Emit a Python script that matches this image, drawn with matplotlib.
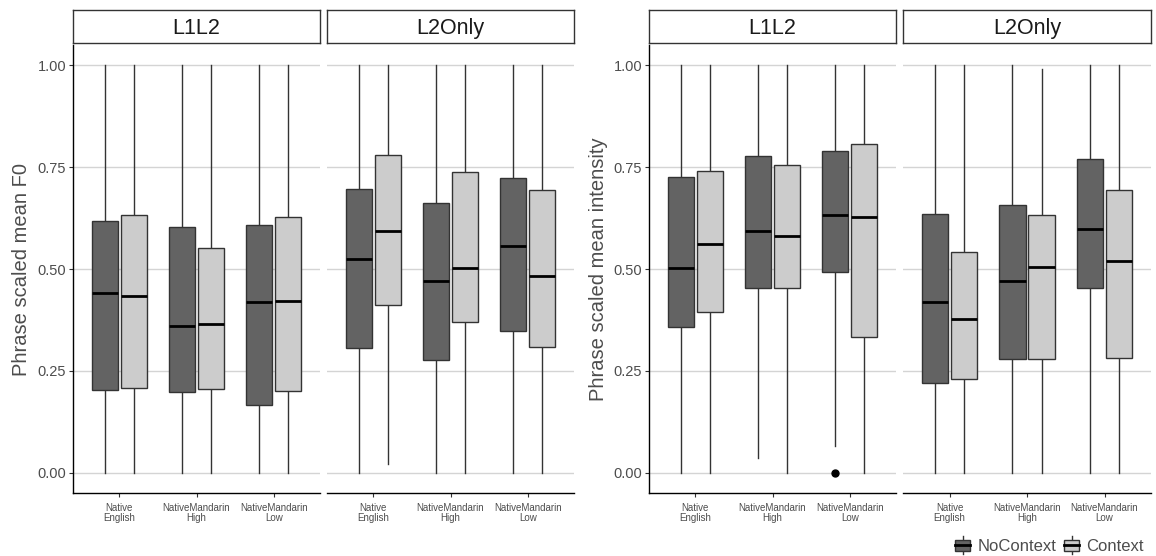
import matplotlib
matplotlib.use("Agg")
import matplotlib.pyplot as plt
from matplotlib.patches import Rectangle, Patch
from matplotlib.lines import Line2D
from matplotlib.legend_handler import HandlerBase

plt.rcParams["font.family"] = ["Liberation Sans", "DejaVu Sans"]

# Categories
groups = ["Native\nEnglish", "NativeMandarin\nHigh", "NativeMandarin\nLow"]
facets = ["L1L2", "L2Only"]
conditions = ["NoContext", "Context"]
cond_colors = ["#636363", "#cccccc"]

# Box stats per facet: (whislo, q1, med, q3, whishi)
# order: NativeEnglish NoContext/Context, NM High NoContext/Context, NM Low NoContext/Context
f0_l1l2 = [
    (0.0, 0.203, 0.440, 0.617, 1.0), (0.0, 0.207, 0.433, 0.632, 1.0),
    (0.0, 0.198, 0.360, 0.604, 1.0), (0.0, 0.206, 0.366, 0.552, 1.0),
    (0.0, 0.167, 0.420, 0.608, 1.0), (0.0, 0.200, 0.422, 0.627, 1.0),
]
f0_l2only = [
    (0.0, 0.307, 0.524, 0.696, 1.0), (0.022, 0.411, 0.594, 0.781, 1.0),
    (0.0, 0.277, 0.470, 0.662, 1.0), (0.0, 0.369, 0.502, 0.739, 1.0),
    (0.0, 0.348, 0.557, 0.724, 1.0), (0.0, 0.309, 0.484, 0.695, 1.0),
]
int_l1l2 = [
    (0.0, 0.358, 0.503, 0.727, 1.0), (0.0, 0.394, 0.562, 0.741, 1.0),
    (0.037, 0.453, 0.594, 0.778, 1.0), (0.0, 0.453, 0.580, 0.756, 1.0),
    (0.065, 0.492, 0.632, 0.790, 1.0), (0.0, 0.334, 0.627, 0.808, 1.0),
]
int_l2only = [
    (0.0, 0.220, 0.420, 0.635, 1.0), (0.0, 0.230, 0.378, 0.541, 1.0),
    (0.0, 0.278, 0.470, 0.656, 1.0), (0.0, 0.280, 0.504, 0.632, 0.99),
    (0.0, 0.454, 0.597, 0.770, 1.0), (0.0, 0.282, 0.519, 0.695, 1.0),
]
# outliers: box index -> values
int_l1l2_outliers = {4: [0.0]}

yticks = [0.0, 0.25, 0.5, 0.75, 1.0]
ytick_labels = ["0.00", "0.25", "0.50", "0.75", "1.00"]

W, H = 1156, 556
fig = plt.figure(figsize=(W / 100, H / 100), dpi=100)

DODGE = 0.1875
BOXW = 0.3375
EDGE = "#333333"
TXT = "#4d4d4d"


def panel(x0, x1, stats, title, first, outliers=None, ylabel=None, label_x=-0.17):
    ax = fig.add_axes([x0 / W, (H - 493) / H, (x1 - x0) / W, 448 / H])
    outliers = outliers or {}
    bstats, pos, cols = [], [], []
    for i, s in enumerate(stats):
        g, c = divmod(i, 2)
        bstats.append(dict(whislo=s[0], q1=s[1], med=s[2], q3=s[3], whishi=s[4],
                           fliers=outliers.get(i, [])))
        pos.append(g + 1 + (DODGE if c else -DODGE))
        cols.append(cond_colors[c])
    bp = ax.bxp(bstats, positions=pos, widths=BOXW, patch_artist=True,
                showcaps=False, showfliers=True,
                boxprops=dict(edgecolor=EDGE, linewidth=1.0),
                whiskerprops=dict(color=EDGE, linewidth=1.0),
                medianprops=dict(color="black", linewidth=2.0),
                flierprops=dict(marker="o", markerfacecolor="black",
                                markeredgecolor="black", markersize=5))
    for patch, col in zip(bp["boxes"], cols):
        patch.set_facecolor(col)
        patch.set_zorder(3)
    for ln in bp["whiskers"]:
        ln.set_zorder(2)
    for ln in bp["medians"]:
        ln.set_zorder(4)
    ax.set_xlim(0.4, 3.6)
    ax.set_ylim(-0.05, 1.05)
    ax.set_yticks(yticks)
    ax.yaxis.grid(True, color="#d4d4d4", linewidth=1.0, zorder=0)
    ax.set_axisbelow(True)
    ax.set_xticks([1, 2, 3])
    ax.set_xticklabels(groups, fontsize=7, color=TXT, linespacing=1.0)
    ax.tick_params(axis="x", length=3, color=EDGE, pad=4)
    for sp in ["top", "right"]:
        ax.spines[sp].set_visible(False)
    ax.spines["bottom"].set_color("black")
    ax.spines["bottom"].set_linewidth(1.0)
    if first:
        ax.set_yticklabels(ytick_labels, fontsize=10.5, color=TXT)
        ax.tick_params(axis="y", length=3, color=EDGE, pad=2)
        ax.spines["left"].set_color("black")
        ax.spines["left"].set_linewidth(1.0)
    else:
        ax.spines["left"].set_visible(False)
        ax.tick_params(axis="y", length=0, labelleft=False)
    if ylabel:
        ax.set_ylabel(ylabel, fontsize=14.5, color=TXT)
        ax.yaxis.set_label_coords(label_x, 0.5)

    st = fig.add_axes([x0 / W, (H - 43) / H, (x1 - x0) / W, 33 / H])
    st.set_xticks([])
    st.set_yticks([])
    for sp in st.spines.values():
        sp.set_color(EDGE)
        sp.set_linewidth(1.0)
    st.text(0.5, 0.45, title, ha="center", va="center", fontsize=15.5,
            color="#1a1a1a", transform=st.transAxes)
    return ax


panel(73, 320, f0_l1l2, facets[0], True, ylabel="Phrase scaled mean F0",
      label_x=-0.17)
panel(327, 574, f0_l2only, facets[1], False)
panel(649, 896, int_l1l2, facets[0], True, outliers=int_l1l2_outliers,
      ylabel="Phrase scaled mean intensity", label_x=-0.165)
panel(903, 1151, int_l2only, facets[1], False)


class BoxKey(HandlerBase):
    def create_artists(self, legend, orig_handle, xdescent, ydescent,
                       width, height, fontsize, trans):
        cx = width / 2 - xdescent
        y0 = -ydescent
        arts = [Line2D([cx, cx], [y0 - 0.1 * height, y0 + 1.1 * height],
                       color=EDGE, linewidth=1.0, transform=trans)]
        arts.append(Rectangle((-xdescent + 0.05 * width, y0 + 0.15 * height),
                              0.9 * width, 0.7 * height,
                              facecolor=orig_handle.get_facecolor(),
                              edgecolor=EDGE, linewidth=1.0, transform=trans))
        arts.append(Line2D([-xdescent + 0.05 * width, -xdescent + 0.95 * width],
                           [y0 + 0.5 * height] * 2, color="black",
                           linewidth=2.0, transform=trans))
        return arts


handles = [Patch(facecolor=c) for c in cond_colors]
fig.legend(handles, conditions, handler_map={Patch: BoxKey()},
           loc="center right", bbox_to_anchor=(1154 / W, (H - 546) / H),
           ncol=2, frameon=False, fontsize=12, labelcolor=TXT,
           handlelength=1.0, handleheight=1.0, handletextpad=0.4,
           columnspacing=0.4, borderpad=0.1)

fig.savefig("out.png", dpi=100, facecolor="white")
